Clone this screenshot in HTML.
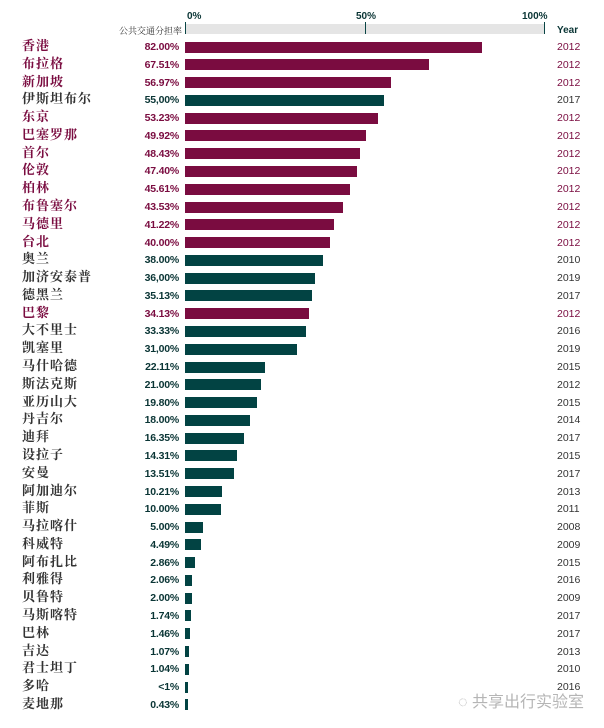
<!DOCTYPE html>
<html><head><meta charset="utf-8"><style>
body{margin:0;width:604px;height:728px;background:#fff;position:relative;overflow:hidden;font-family:"Liberation Sans","Noto Sans CJK SC",sans-serif}
.a{position:absolute}
.n{position:absolute;left:22px;font-family:"Liberation Serif","Noto Serif CJK SC",serif;font-size:13px;line-height:14px;letter-spacing:1px;font-weight:bold}
.p{position:absolute;right:425px;font-size:10.5px;font-weight:bold;line-height:12px;text-align:right;letter-spacing:-0.2px}
.b{position:absolute;left:185px;height:11px}
.y{position:absolute;left:557px;font-size:10.5px;line-height:12px}
.m{color:#7a0c40}.t{color:#333}
</style></head><body>
<div class="a" style="left:185px;top:24px;width:360px;height:10px;background:#e5e5e5"></div>
<div class="a" style="left:185px;top:22px;width:1px;height:12px;background:#0a4545"></div>
<div class="a" style="left:365px;top:22px;width:1px;height:12px;background:#0a4545"></div>
<div class="a" style="left:544px;top:22px;width:1px;height:12px;background:#0a4545"></div>
<div class="a" style="left:187px;top:11px;font-size:10px;font-weight:bold;color:#0a3535">0%</div>
<div class="a" style="left:356px;top:11px;font-size:10px;font-weight:bold;color:#0a3535">50%</div>
<div class="a" style="left:522px;top:11px;font-size:10px;font-weight:bold;color:#0a3535">100%</div>
<div class="a" style="right:422px;top:24px;font-family:'Liberation Serif','Noto Serif CJK SC',serif;font-size:9px;color:#333">公共交通分担率</div>
<div class="a" style="left:557px;top:25px;font-size:10px;font-weight:bold;color:#0a3535">Year</div>
<div id="c"></div>
<div class="a" style="left:458px;top:688px;font-size:16px;color:#b5b5b5;font-family:'Liberation Sans','Noto Sans CJK SC',sans-serif">◌ 共享出行实验室</div>
<script>
var d=[["香港","82.00%",82,2012,1],["布拉格","67.51%",67.51,2012,1],["新加坡","56.97%",56.97,2012,1],["伊斯坦布尔","55,00%",55,2017,0],["东京","53.23%",53.23,2012,1],["巴塞罗那","49.92%",49.92,2012,1],["首尔","48.43%",48.43,2012,1],["伦敦","47.40%",47.4,2012,1],["柏林","45.61%",45.61,2012,1],["布鲁塞尔","43.53%",43.53,2012,1],["马德里","41.22%",41.22,2012,1],["台北","40.00%",40,2012,1],["奥兰","38.00%",38,2010,0],["加济安泰普","36,00%",36,2019,0],["德黑兰","35.13%",35.13,2017,0],["巴黎","34.13%",34.13,2012,1],["大不里士","33.33%",33.33,2016,0],["凯塞里","31,00%",31,2019,0],["马什哈德","22.11%",22.11,2015,0],["斯法克斯","21.00%",21,2012,0],["亚历山大","19.80%",19.8,2015,0],["丹吉尔","18.00%",18,2014,0],["迪拜","16.35%",16.35,2017,0],["设拉子","14.31%",14.31,2015,0],["安曼","13.51%",13.51,2017,0],["阿加迪尔","10.21%",10.21,2013,0],["菲斯","10.00%",10,2011,0],["马拉喀什","5.00%",5,2008,0],["科威特","4.49%",4.49,2009,0],["阿布扎比","2.86%",2.86,2015,0],["利雅得","2.06%",2.06,2016,0],["贝鲁特","2.00%",2,2009,0],["马斯喀特","1.74%",1.74,2017,0],["巴林","1.46%",1.46,2017,0],["吉达","1.07%",1.07,2013,0],["君士坦丁","1.04%",1.04,2010,0],["多哈","<1%",0.8,2016,0],["麦地那","0.43%",0.8,2016,0]];
var h="";d.forEach(function(r,i){var c=47+i*17.78;var cl=r[4]?"m":"t";var bc=r[4]?"#7a0c40":"#024343";var pc=r[4]?"#7a0c40":"#0a3535";
h+='<div class="n '+cl+'" style="top:'+(c-8)+'px">'+r[0]+'</div>';
h+='<div class="p" style="top:'+(c-6)+'px;color:'+pc+'">'+r[1].replace("<","&lt;")+'</div>';
h+='<div class="b" style="top:'+(c-5.5)+'px;width:'+Math.max(3,r[2]*3.62)+'px;background:'+bc+'"></div>';
if(i<37)h+='<div class="y" style="top:'+(c-6)+'px;color:'+(r[4]?"#7a0c40":"#333")+'">'+r[3]+'</div>';});
document.getElementById("c").innerHTML=h;
</script>
</body></html>
